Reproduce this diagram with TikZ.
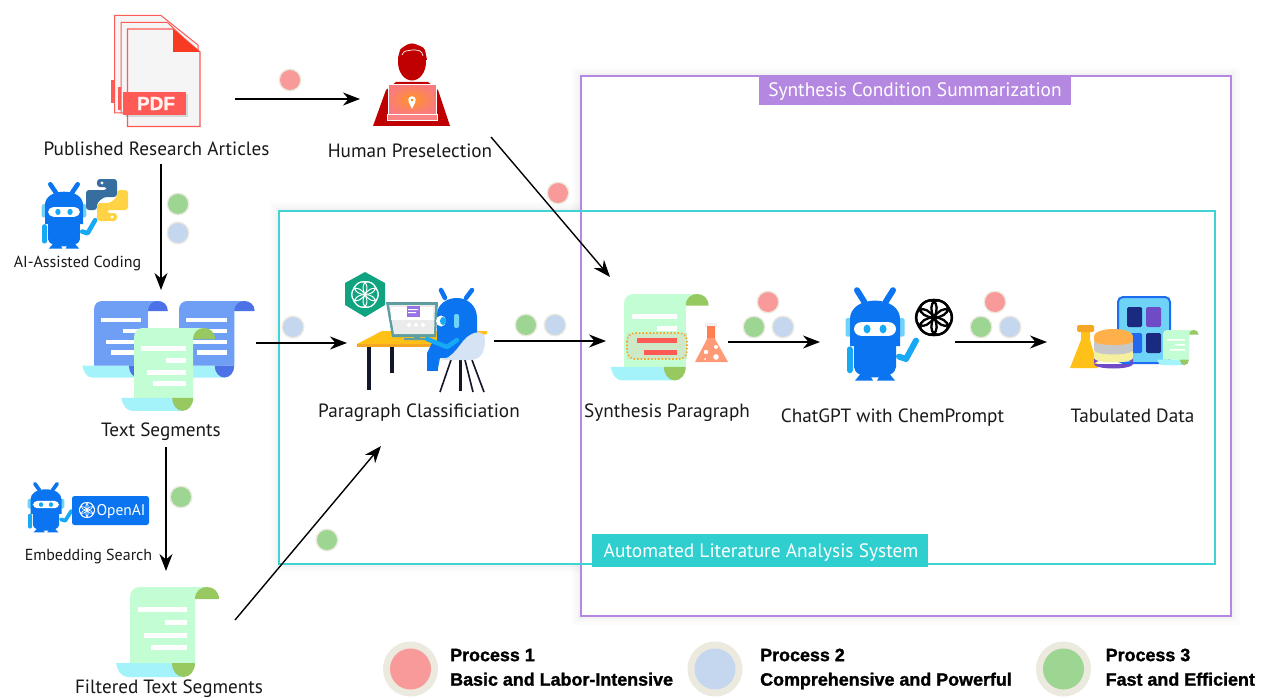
\documentclass[tikz,border=0pt]{standalone}
\usepackage{fontspec}
\setmainfont{PT Sans}
\newfontfamily\legendfont[BoldFeatures={FakeBold=1.4}]{Liberation Sans}
\usetikzlibrary{arrows.meta,shadings}
\definecolor{dotred}{HTML}{F99A9A}
\definecolor{dotblue}{HTML}{C5D7EF}
\definecolor{dotgreen}{HTML}{9DD592}
\definecolor{dotrim}{HTML}{ECE9DF}
\definecolor{botblue}{HTML}{0B74F0}
\definecolor{botlight}{HTML}{18A9F5}
\definecolor{botear}{HTML}{6FD3F8}
\definecolor{pdfred}{HTML}{FF5A55}
\definecolor{folded}{HTML}{F63B22}
\definecolor{humanred}{HTML}{C00000}
\definecolor{sbody}{HTML}{C2FDD3}
\definecolor{scurl}{HTML}{98C860}
\definecolor{bbody}{HTML}{6F9FF5}
\definecolor{bcurl}{HTML}{4D71E6}
\definecolor{sband}{HTML}{A4F3FB}
\definecolor{framepurple}{HTML}{B487E0}
\definecolor{framecyan}{HTML}{3FD3D3}
\definecolor{labelcyan}{HTML}{2FCFCF}
\definecolor{deskyellow}{HTML}{FFC018}
\definecolor{deskorange}{HTML}{F5A623}
\definecolor{salmon}{HTML}{FF9A76}
\definecolor{flaskneck}{HTML}{FF7F50}
\definecolor{gptgreen}{HTML}{10A37F}
\definecolor{pyblue}{HTML}{366F9F}
\definecolor{pyyellow}{HTML}{FFD343}
\definecolor{dbtop}{HTML}{FFB04A}
\definecolor{dbgray}{HTML}{C8C8C8}
\definecolor{dbpale}{HTML}{F5EFA0}
\definecolor{dbpurple}{HTML}{6F4CC6}
\definecolor{cellnavy}{HTML}{1A2A80}
\definecolor{cellblue}{HTML}{2468F0}
\definecolor{tabedge}{HTML}{1E6CF0}
\definecolor{monitor}{HTML}{5E9EA0}
\definecolor{inkdark}{HTML}{14162A}
\tikzset{
  flow/.style={line width=1.4pt,draw=black,-{Stealth[length=17pt,width=13pt]}},
  icontext/.style={font=\fontsize{19.2}{21}\selectfont,text=black!90,inner sep=0pt,text height=13pt,text depth=0pt},
  smalltext/.style={font=\fontsize{16}{18}\selectfont,text=black!90,inner sep=0pt,text height=11pt,text depth=0pt},
  hitbox/.style={inner sep=0pt,outer sep=0pt,draw=none,fill=none},
  framelabel/.style={font=\fontsize{19.4}{21}\selectfont,text=white,inner sep=0pt,text height=13pt,text depth=0pt},
  legendtext/.style={font=\legendfont\bfseries\fontsize{17.9}{24.5}\selectfont,anchor=west,align=left,inner sep=0pt,text=black},
}
\newcommand{\procdot}[3]{\fill[dotrim] (#2,#3) circle (11.5);\fill[#1] (#2,#3) circle (10);}
\newcommand{\legenddot}[3]{\fill[dotrim] (#2,#3) circle (27.5);\fill[#1] (#2,#3) circle (20.5);}
% invisible box: name, x1,y1,x2,y2
\newcommand{\hitnode}[5]{\node[hitbox,minimum width=#4pt-#2pt,minimum height=#5pt-#3pt] (#1) at ({(#2+#4)/2},{(#3+#5)/2}) {};}
% x y sx sy body curl
\newcommand{\scrollshape}[6]{\begin{scope}[shift={(#1,#2)},xscale=#3,yscale=#4]
  \fill[sband] (-14,76) .. controls (-12,85) and (-8,90) .. (-2,90) -- (54,90) -- (54,76) -- cycle;
  \fill[#5] (0,76) -- (0,10) .. controls (0,4) and (4,0) .. (10,0) -- (77,0) -- (65,12) -- (65,76) -- cycle;
  \fill[#6] (65,12) .. controls (65,4) and (71,0) .. (77,0) .. controls (83,0) and (89,4) .. (89,12) -- cycle;
  \fill[#6] (42,76) -- (65,76) .. controls (65,84) and (60,90) .. (53.5,90) .. controls (47,90) and (42,84) .. (42,76) -- cycle;
\end{scope}}
\newcommand{\scrolllines}[4]{\begin{scope}[shift={(#1,#2)},xscale=#3,yscale=#4]
  \fill[white] (8,20) rectangle (57,25);
  \fill[white] (35,33) rectangle (57,38);
  \fill[white] (14,46) rectangle (57,51);
  \fill[white] (21,58) rectangle (57,63);
\end{scope}}
% x y sx sy
\newcommand{\robot}[4]{\begin{scope}[shift={(#1,#2)},xscale=#3,yscale=#4]
  \draw[botblue,line width=6pt*#3,line cap=round] (-10.5,19) -- (-18,4) (10.5,19) -- (18,4);
  \fill[botear,rounded corners=1.5] (-29.5,39) rectangle (-22,62);
  \fill[botear,rounded corners=1.5] (22,39) rectangle (29.5,62);
  \draw[botlight,line width=6pt*#3,line cap=round] (-25.5,78) -- (-25.5,104);
  \draw[botlight,line width=6pt*#3,line cap=round,line join=round] (24,87) -- (31,90) -- (41,67);
  \fill[botblue] (-21,72) -- (21,72) -- (21,100) .. controls (21,108) and (12,113) .. (0,113) .. controls (-12,113) and (-21,108) .. (-21,100) -- cycle;
  \fill[botblue] (-14,108) -- (-6,108) -- (-2,117) -- (-20,117) -- cycle;
  \fill[botblue] (6,108) -- (14,108) -- (20,117) -- (2,117) -- cycle;
  \fill[botblue] (-25,74) -- (-25,40) .. controls (-25,26) and (-14,17) .. (0,17) .. controls (14,17) and (25,26) .. (25,40) -- (25,74) -- cycle;
  \fill[white,rounded corners=7pt*#3] (-21,44) rectangle (21,61);
  \fill[botlight] (-8,52.5) ellipse (3.5 and 5.5);
  \fill[botlight] (8,52.5) ellipse (3.5 and 5.5);
\end{scope}}
% interlaced six-loop logo: x y r colour width
\newcommand{\knot}[5]{\foreach \a in {0,60,...,300} {\draw[#4,line width=#5,rotate around={\a:(#1,#2)}] (#1,{#2-.42*#3}) ellipse ({#3*.66} and {#3*.42});}}
\begin{document}
\begin{tikzpicture}[x=1pt,y=-1pt]
\useasboundingbox (0,0) rectangle (1261,698);
\clip (0,0) rectangle (1261,698);
\fill[white] (0,0) rectangle (1261,698);

% frame shadows, fills, then lines
\foreach \w/\o in {18/.012,12/.015,6/.02} {
  \draw[black,opacity=\o,line width=\w pt] (581,76) rectangle (1231,616);
  \draw[black,opacity=\o,line width=\w pt] (279,211) rectangle (1215,564);
}
\fill[white] (582,77) rectangle (1230,615);
\fill[white] (280,212) rectangle (1214,563);
\draw[framepurple,line width=1.3pt] (581,76) rectangle (1231,616);
\draw[framecyan,line width=1.3pt] (279,211) rectangle (1215,564);
\fill[framepurple] (759,76) rectangle (1071,105);
\node[framelabel] (lblsum) at (915,90.5) {Synthesis Condition Summarization};
\fill[labelcyan] (592,534) rectangle (928,567);
\node[framelabel] (lblauto) at (761,550.5) {Automated Literature Analysis System};

% PDF stack
\foreach \dx/\dy in {0/0,6.5/7} {
  \fill[pdfred] (111+\dx,80+\dy) rectangle (121+\dx,103+\dy);
  \filldraw[draw=pdfred,fill=black!4,line width=1pt] (114.5+\dx,15.5+\dy) -- (161+\dx,15.5+\dy) -- (198,45+\dy) -- (198,113) -- (114.5+\dx,113) -- cycle;
}
\filldraw[draw=pdfred,fill=black!4,line width=1.2pt] (127.5,29) -- (173,29) -- (200,52) -- (200,126.5) -- (127.5,126.5) -- cycle;
\fill[folded] (173,29) -- (200,52) -- (173,52) -- cycle;
\fill[black,opacity=.12] (125,94) rectangle (188,117);
\fill[pdfred] (123,92) rectangle (186,115);
\node[font=\legendfont\bfseries\fontsize{19}{19}\selectfont,text=white!92!pdfred,inner sep=0pt] (pdflabel) at (156,103.5) {PDF};

% human
\fill[humanred] (412,62) ellipse (14 and 18.5);
\fill[humanred] (398,58) -- (400,50) .. controls (403,44) and (421,42) .. (425,50) -- (427,60) -- (398,60) -- cycle;
\draw[white,line width=.7pt] (402,55) .. controls (404,50) and (407,51) .. (412,50) .. controls (418,50) and (422,50) .. (423,56);
\fill[humanred] (373,126) -- (386,90) -- (396,82) -- (428,82) -- (438,90) -- (450,126) -- cycle;
\shade[inner color=orange!85!white,outer color=dotred!80!red] (388,84.5) rectangle (436,114);
\draw[white,line width=.8pt] (388,84.5) rectangle (436,114);
\fill[dotred!85!red] (387,114) rectangle (437,120);
\draw[white,line width=.8pt] (387,114) rectangle (437,120);
\fill[white] (412,100) circle (3.8);
\fill[white] (408.6,102) -- (412,109) -- (415.4,102) -- cycle;
\fill[orange] (412,100) circle (1.3);

% AI-assisted coding
\robot{64}{182}{.76}{.57}
\fill[rounded corners=3pt,fill=pyblue] (97,179) -- (117,179) -- (117,197) -- (104,197) -- (97,203) -- (97,210) -- (86,210) -- (86,190) -- (107,190) -- (107,187) -- (97,187) -- cycle;
\fill[rounded corners=3pt,fill=pyyellow] (117,221) -- (97,221) -- (97,203) -- (110,203) -- (117,197) -- (117,190) -- (128,190) -- (128,210) -- (107,210) -- (107,213) -- (117,213) -- cycle;
\fill[white] (102,183) circle (1.7);
\fill[white] (112,217) circle (1.7);

% scrolls: text segments
\scrollshape{94}{301}{.83}{.85}{bbody}{bcurl}
\scrolllines{94}{301}{.83}{.85}
\scrollshape{179}{301}{.85}{.85}{bbody}{bcurl}
\scrolllines{179}{301}{.85}{.85}
\scrollshape{134}{328}{.91}{.92}{sbody}{scurl}
\scrolllines{134}{328}{.91}{.92}

% embedding search
\robot{46}{482}{.62}{.43}
\fill[botblue,rounded corners=2.5pt] (72,496) rectangle (149,525);
\knot{87}{510}{9}{white}{.7pt}
\node[font=\fontsize{15.5}{15}\selectfont,text=white,inner sep=0pt,text height=10pt,text depth=0pt] (openailbl) at (121,510) {OpenAI};

% filtered segments
\scrollshape{130}{587}{1}{1}{sbody}{scurl}
\scrolllines{130}{587}{1}{1}

% classification scene
\fill[inkdark] (366.5,347) rectangle (371,390);
\fill[inkdark] (390,347) rectangle (394,373);
\fill[deskyellow] (357,344) -- (382,331) -- (487,331) -- (487,334) -- (440,345) -- cycle;
\fill[deskorange] (357,344) rectangle (440,346.5);
\fill[monitor] (386,302) -- (438,302) -- (436,337) -- (392,337) -- cycle;
\fill[black!8] (389,305) -- (435,305) -- (434,334) -- (394,334) -- cycle;
\fill[white] (391,307) rectangle (433,320);
\fill[framepurple!85!blue] (407,306) rectangle (420,317);
\fill[white] (408,309) rectangle (418,310) (408,312) rectangle (416,313);
\fill[white] (409,325) circle (2) (416,325) circle (2) (423,325) circle (2);
\fill[monitor] (404,338) rectangle (429,340) (414,337) rectangle (420,339);
\draw[botblue,line width=4.5pt,line cap=round] (445,298) -- (441,290) (466,298) -- (472,290);
\fill[botblue] (437,347) -- (437,315) .. controls (437,304) and (447,298) .. (457,298) .. controls (468,298) and (477,306) .. (477,318) -- (477,347) -- cycle;
\fill[botblue] (432,343) -- (462,343) -- (462,358) -- (440,358) -- (438,368) -- (427,368) -- (427,353) -- cycle;
\fill[botblue] (427,367) rectangle (438,371);
\fill[white] (441,321) ellipse (5 and 5.5);
\fill[botlight] (443,321) ellipse (3 and 4);
\fill[botear,rounded corners=2pt] (454,314) rectangle (459,328);
\fill[inkdark] (459,358) -- (462,358) -- (462,391) -- (459,391) -- cycle;
\draw[inkdark,line width=1.6pt] (451,360) -- (440,392) (465,360) -- (473,392) (472,360) -- (484,392);
\fill[dotblue!70!white] (438,360) .. controls (455,360) and (460,340) .. (470,335) .. controls (478,330) and (486,332) .. (485,342) .. controls (484,352) and (482,358) .. (472,360) -- cycle;
\draw[botlight,line width=4.5pt,line cap=round,line join=round] (427,339) -- (447,347) -- (457,340);
\fill[gptgreen] (365,272) -- (385,283) -- (385,305) -- (365,317) -- (345,305) -- (345,283) -- cycle;
\knot{365}{294.5}{15.5}{white}{1pt}

% synthesis paragraph
\scrollshape{624}{294}{.95}{.96}{sbody}{scurl}
\fill[white] (632,314) rectangle (677,319);
\fill[white] (657,326) rectangle (677,331);
\fill[dotred!20!sbody] (627,333) rectangle (687,359);
\draw[deskorange,line width=1.6pt,dash pattern=on 1.5pt off 2pt,rounded corners=8pt] (627,333) rectangle (687,359);
\fill[pdfred] (637,338) rectangle (677,343);
\fill[pdfred] (644,350) rectangle (677,355);
\fill[black!6] (705,323) rectangle (717,327);
\fill[salmon] (707,326) -- (715,326) -- (715,339) -- (728,362) -- (695,362) -- (707,339) -- cycle;
\fill[flaskneck] (707,326) rectangle (715,338);
\fill[white] (706,352) circle (2.2) (716,347) circle (2) (716,357) circle (2.8) (705,359) circle (1);

% chatgpt
\robot{875}{287}{1}{.8}
\knot{934}{317.5}{21}{black}{2.3pt}

% tabulated data
\filldraw[draw=tabedge,fill=botear,line width=2pt,rounded corners=5pt] (1118,297) rectangle (1170,363);
\fill[cellnavy,rounded corners=1.5pt] (1127,307) rectangle (1142,327);
\fill[dbpurple,rounded corners=1.5pt] (1146,307) rectangle (1161,327);
\fill[cellblue,rounded corners=1.5pt] (1127,333) rectangle (1142,353);
\fill[cellnavy,rounded corners=1.5pt] (1146,333) rectangle (1161,353);
\fill[deskyellow] (1081,332) -- (1090,332) -- (1090,340) -- (1098,368) -- (1070,368) -- (1081,340) -- cycle;
\fill[deskorange,rounded corners=1.5pt] (1077,325) rectangle (1094,332);
\fill[dbpurple] (1094,358) rectangle (1133,364) (1113.5,364) ellipse (19.5 and 4.5);
\fill[dbpale] (1094,351) rectangle (1133,358);
\fill[dbpale] (1113.5,358) ellipse (19.5 and 4.5);
\fill[dbgray] (1094,342) rectangle (1133,350);
\fill[dbgray] (1113.5,350) ellipse (19.5 and 4.5);
\fill[dbtop] (1113.5,336) ellipse (19.5 and 7);
\fill[dbtop] (1094,336) rectangle (1133,341);
\fill[dbtop] (1113.5,341) ellipse (19.5 and 4);
\scrollshape{1163}{330}{.4}{.39}{sbody}{scurl}
\fill[white] (1167,339) rectangle (1185,340.5) (1175,344) rectangle (1185,345.5) (1170,349) rectangle (1185,350.5);

% text
\node[icontext] (tpub) at (156.5,149) {Published Research Articles};
\node[icontext] (thuman) at (410,151) {Human Preselection};
\node[smalltext] (tcoding) at (77.5,262) {AI-Assisted Coding};
\node[icontext] (tseg) at (161,430) {Text Segments};
\node[smalltext] (tembed) at (88.5,555) {Embedding Search};
\node[icontext] (tfilt) at (169,686.5) {Filtered Text Segments};
\node[icontext] (tclass) at (419,411) {Paragraph Classificiation};
\node[icontext] (tsyn) at (667,411) {Synthesis Paragraph};
\node[icontext] (tchat) at (892.5,416) {ChatGPT with ChemPrompt};
\node[icontext] (ttab) at (1132.5,416) {Tabulated Data};

% icon boxes carrying the connectors
\hitnode{pdf}{87}{34}{235}{164}
\hitnode{human}{360}{61}{491}{137}
\hitnode{segs}{76}{290}{256}{447}
\hitnode{filt}{97}{571}{235}{669}
\hitnode{cls}{347}{240}{494}{446}
\hitnode{syn}{606}{277}{728}{405}
\hitnode{chat}{820}{280}{955}{404}
\hitnode{tab}{1047}{290}{1200}{394}

% connectors
\draw[flow] (pdf.east) -- (human.west);
\draw[flow] (human.south east) -- ([xshift=4pt]syn.north west);
\draw[flow] (pdf.south) -- (pdf.south |- segs.north);
\draw[flow] (segs.east |- cls.west) -- (cls.west);
\draw[flow] (cls.east |- syn.west) -- (syn.west);
\draw[flow] (syn.east |- chat.west) -- (chat.west);
\draw[flow] (chat.east) -- (tab.west);
\draw[flow] (segs.south) -- (filt.north);
\draw[flow] (filt.east) -- ([xshift=-39.5pt]cls.south);

% process dots
\procdot{dotred}{290}{80}
\procdot{dotred}{558}{193}
\procdot{dotred}{768}{302}
\procdot{dotred}{995}{302}
\procdot{dotgreen}{178}{204}
\procdot{dotblue}{178}{233}
\procdot{dotblue}{293}{327}
\procdot{dotgreen}{526}{325}
\procdot{dotblue}{555}{325}
\procdot{dotgreen}{754}{327}
\procdot{dotblue}{783}{327}
\procdot{dotgreen}{981}{327}
\procdot{dotblue}{1010}{327}
\procdot{dotgreen}{181}{497}
\procdot{dotgreen}{327}{540}

% legend
\legenddot{dotred}{410.5}{669}
\legenddot{dotblue}{715}{669}
\legenddot{dotgreen}{1063.5}{669}
\node[legendtext] (leg1) at (450,668.5) {\strut Process 1\\\strut Basic and Labor-Intensive};
\node[legendtext] (leg2) at (760,668.5) {\strut Process 2\\\strut Comprehensive and Powerful};
\node[legendtext] (leg3) at (1105.5,668.5) {\strut Process 3\\\strut Fast and Efficient};
\end{tikzpicture}
\end{document}
